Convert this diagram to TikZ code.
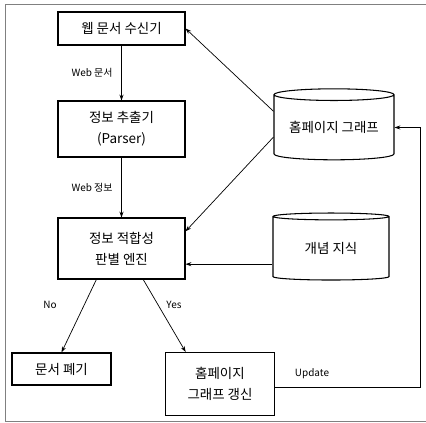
\documentclass[tikz,border=0pt]{standalone}
\usepackage{fontspec}
\setmainfont{Noto Sans CJK KR}
\usetikzlibrary{shapes.geometric, arrows.meta}

\begin{document}
\begin{tikzpicture}[x=0.3mm, y=-0.3mm,
    box/.style={draw, line width=0.9pt, align=center, inner sep=0pt,
        font=\fontsize{11.5}{18}\selectfont},
    db/.style={draw, line width=0.9pt, cylinder, shape border rotate=90,
        aspect=0.13, inner sep=0pt, font=\fontsize{11.5}{18}\selectfont},
    arr/.style={-{Stealth[length=5pt, width=3.5pt]}, line width=0.6pt},
    lbl/.style={font=\fontsize{8.5}{10}\selectfont}]
    \useasboundingbox (0, 0) rectangle (426, 423);
    \draw[gray, line width=0.7pt] (426, 4) -- (5, 4) -- (5, 421) -- (426, 421);

    \node[box, minimum width=38.1mm, minimum height=9.9mm] (recv) at (121.5, 28.5) {웹 문서 수신기};
    \node[box, minimum width=38.1mm, minimum height=16.8mm] (parser) at (121.5, 129) {정보 추출기\\(Parser)};
    \node[box, minimum width=38.1mm, minimum height=18.3mm] (judge) at (121.5, 248.5) {정보 적합성\\판별 엔진};
    \node[box, minimum width=29.7mm, minimum height=9.6mm] (discard) at (61.5, 369) {문서 폐기};
    \node[box, minimum width=32.7mm, minimum height=18.9mm] (update) at (220, 384) {홈페이지\\그래프 갱신};
    \node[db, minimum width=36mm, minimum height=21.3mm] (hp) at (334, 127.5) {홈페이지 그래프};
    \node[db, minimum width=34.8mm, minimum height=20.1mm] (concept) at (331, 248.5) {개념 지식};
    \coordinate (rt) at (420, 387);

    \draw[arr] (recv) -- node[lbl, left=4pt] {Web 문서} (parser);
    \draw[arr] (parser) -- node[lbl, left=4pt] {Web 정보} (judge);
    \draw[arr] (hp.165) -- (recv.east);
    \draw[arr] (hp.189) -- (judge.15);
    \draw[arr] (concept.195) -- (concept.195 -| judge.east);
    \draw[arr] (judge.231) -- (discard.north);
    \draw[arr] (judge.-55) -- (update.137);
    \draw[arr] (update.east |- rt) -- (rt) |- (hp.east);

    \node[lbl] (no) at (50, 305) {No};
    \node[lbl] (yes) at (174, 305) {Yes};
    \node[lbl] (upd) at (312, 374) {Update};
\end{tikzpicture}
\end{document}
